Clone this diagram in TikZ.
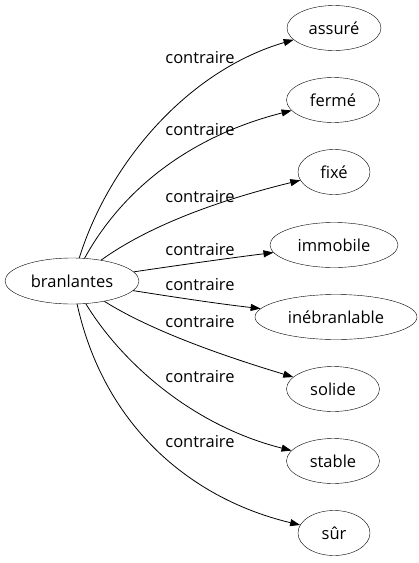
\documentclass[tikz,border=0pt]{standalone}
\usepackage{fontspec}
\setmainfont{Open Sans}
\usetikzlibrary{shapes.geometric,arrows.meta}
\begin{document}
\begin{tikzpicture}[x=1pt,y=-1pt,
  word/.style={draw,ellipse,inner sep=0pt,minimum height=45pt,font=\fontsize{16.5}{18}\selectfont},
  lbl/.style={inner sep=0pt,font=\fontsize{16.5}{18}\selectfont},
  rel/.style={draw,line width=0.8pt,-{Triangle[length=10pt,width=7pt]}}]
\useasboundingbox (0,0) rectangle (419,563);
\node[word,minimum width=134pt,minimum height=46pt] (b) at (72,281) {branlantes};
\node[word,minimum width=94pt] (n1) at (334,28) {assuré};
\node[word,minimum width=93pt] (n2) at (333,100) {fermé};
\node[word,minimum width=72pt] (n3) at (334,172) {fixé};
\node[word,minimum width=128pt] (n4) at (334,245) {immobile};
\node[word,minimum width=162pt] (n5) at (336,317) {inébranlable};
\node[word,minimum width=93pt] (n6) at (333,389) {solide};
\node[word,minimum width=93pt] (n7) at (333,461) {stable};
\node[word,minimum width=72pt] (n8) at (334,533) {sûr};
\node[lbl] (l1) at (200,58) {contraire};
\node[lbl] (l2) at (200,130) {contraire};
\node[lbl] (l3) at (200,197) {contraire};
\node[lbl] (l4) at (200,250) {contraire};
\node[lbl] (l5) at (200,285) {contraire};
\node[lbl] (l6) at (200,322) {contraire};
\node[lbl] (l7) at (200,377) {contraire};
\node[lbl] (l8) at (200,442) {contraire};
\draw[rel] (b) .. controls (110,160) and (190,70) .. (n1);
\draw[rel] (b) .. controls (125,185) and (195,135) .. (n2);
\draw[rel] (b) .. controls (150,225) and (220,200) .. (n3);
\draw[rel] (b) .. controls (180,265) and (230,258) .. (n4);
\draw[rel] (b) .. controls (180,298) and (220,304) .. (n5);
\draw[rel] (b) .. controls (150,330) and (220,355) .. (n6);
\draw[rel] (b) .. controls (120,360) and (190,425) .. (n7);
\draw[rel] (b) .. controls (105,430) and (195,500) .. (n8);
\end{tikzpicture}
\end{document}
